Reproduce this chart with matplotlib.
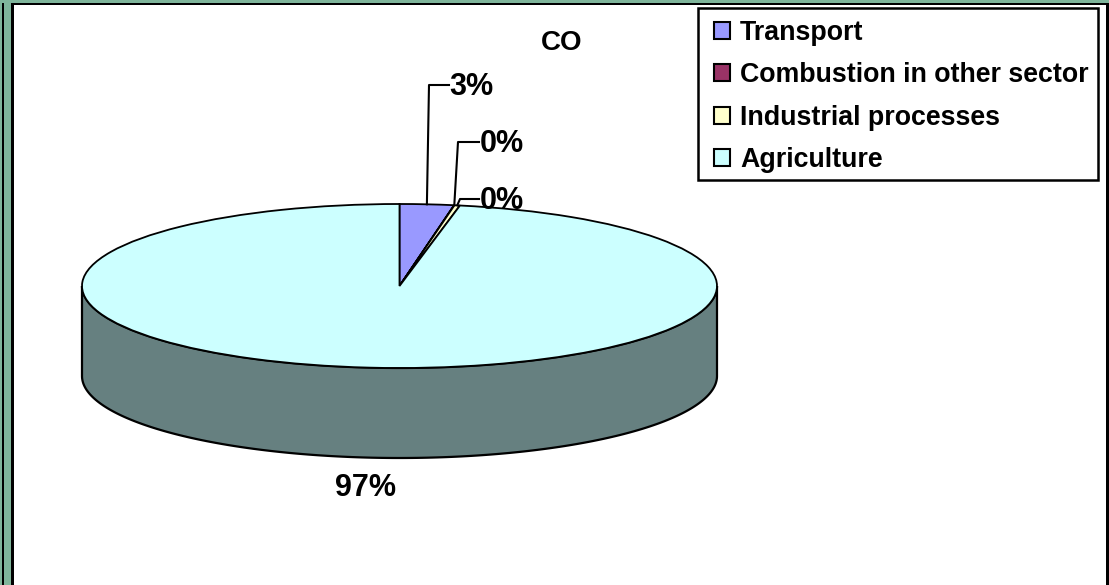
import numpy as np
import matplotlib
matplotlib.use("Agg")
import matplotlib.pyplot as plt
from matplotlib.patches import Rectangle, Polygon
from matplotlib.transforms import Affine2D

categories = ["Transport", "Combustion in other sector", "Industrial processes", "Agriculture"]
values = [2.75, 0.02, 0.28, 96.95]
colors = ["#9999FF", "#993366", "#FFFFCC", "#CCFFFF"]
side_color = "#668080"
title = "CO"

W, H = 1109, 585
plt.rcParams["font.family"] = ["Liberation Sans", "DejaVu Sans"]
fig = plt.figure(figsize=(W / 100, H / 100), dpi=100, facecolor="#7FB59B")
ax = fig.add_axes([0, 0, 1, 1])

# pixel-like coordinates, y up
CX, CY, RX, RY, DEPTH = 399.5, H - 286, 317.5, 82, 90

wedges, _ = ax.pie(values, startangle=90, counterclock=False, colors=colors,
                   radius=1, center=(0, 0), labels=categories, labeldistance=None,
                   wedgeprops=dict(edgecolor="black", linewidth=1.3))
ax.set_aspect("auto")
ax.set_xlim(0, W)
ax.set_ylim(0, H)
ax.axis("off")

# background frame
ax.add_patch(Rectangle((2, -5), 2, H + 5 - 3, fc="black", ec="none", zorder=0))
ax.add_patch(Rectangle((11, -5), W, H + 5 - 3, fc="black", ec="none", zorder=0.1))
ax.add_patch(Rectangle((14, -5), W - 17, H + 5 - 5, fc="white", ec="none", zorder=0.2))

# side wall of the 3D disc
theta = np.linspace(np.pi, 2 * np.pi, 200)
xs = CX + RX * np.cos(theta)
ys = CY + RY * np.sin(theta)
wall = np.vstack([np.column_stack([xs, ys]),
                  np.column_stack([xs[::-1], ys[::-1] - DEPTH])])
ax.add_patch(Polygon(wall, closed=True, fc=side_color, ec="black", lw=1.6, zorder=1))

# squash the library's wedges into the disc's top ellipse
squash = Affine2D().scale(RX, RY).translate(CX, CY) + ax.transData
for w in wedges:
    w.set_transform(squash)
    w.set_zorder(2)

# percentage labels and leader lines
total = sum(values)
pct = [f"{v / total:.0%}" for v in values]
edges = 90 - np.cumsum([0] + values) / total * 360
mids = np.radians((edges[:-1] + edges[1:]) / 2)
label_pos = [(471, 87), (502, 144), (502, 201), (366, 488)]
elbows = [(429, 85), (458, 142), (460, 199), None]
ends = [(449, 85), (479, 142), (479, 199), None]
for i, t in enumerate(pct):
    lx, ly = label_pos[i]
    ax.text(lx, H - ly, t, ha="center", va="center", fontsize=22, fontweight="bold",
            color="black", zorder=5)
    if elbows[i] is not None:
        ax0 = CX + RX * np.cos(mids[i])
        ay0 = CY + RY * np.sin(mids[i])
        ax.plot([ax0, elbows[i][0], ends[i][0]], [ay0, H - elbows[i][1], H - ends[i][1]],
                color="black", lw=1.5, zorder=4)

ax.text(562, H - 43, title, ha="center", va="center", fontsize=20, fontweight="bold", zorder=5)

# legend box
ax.add_patch(Rectangle((698, H - 180), 400, 172, fc="white", ec="black", lw=1.8, zorder=5.5))
leg = ax.legend(handles=wedges, labels=categories, loc="upper left",
                bbox_to_anchor=(714 / W, 1 - 19.5 / H), bbox_transform=fig.transFigure,
                prop=dict(family="Liberation Sans", weight="bold", size=19.3),
                frameon=False, borderpad=0, labelspacing=0.62, handlelength=0.6,
                handleheight=0.6, handletextpad=0.37, borderaxespad=0)
leg.set_zorder(6)
for h in leg.legend_handles:
    h.set_linewidth(1.5)

fig.savefig("out.png", dpi=100, facecolor=fig.get_facecolor())
